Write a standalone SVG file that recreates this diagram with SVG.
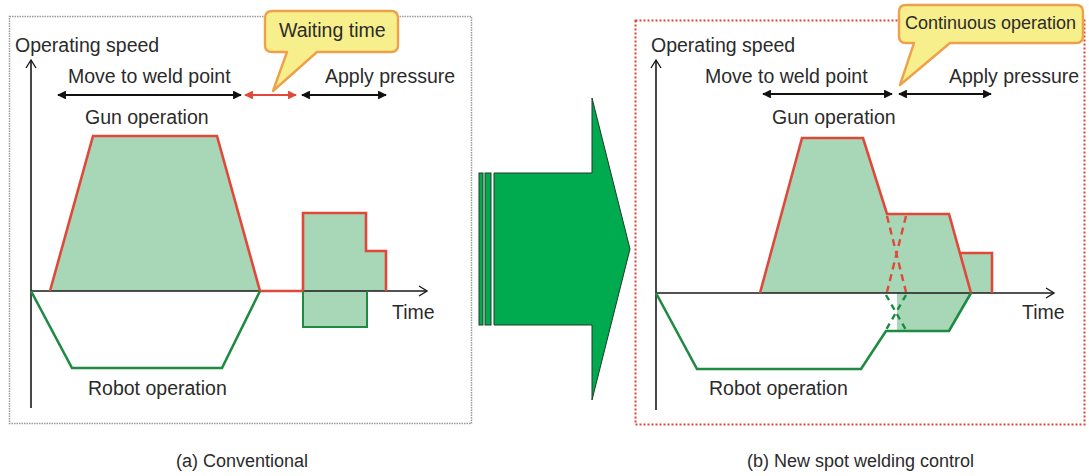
<svg xmlns="http://www.w3.org/2000/svg" width="1089" height="476" viewBox="0 0 1089 476">
  <style>
    text { font-family: "Liberation Sans", Arial, sans-serif; fill: #2b2b2b; }
    .lbl { font-size: 19.5px; }
    .cap { font-size: 18px; }
    .axis { stroke: #1a1a1a; stroke-width: 1.6; fill: none; }
    .chev { stroke: #1a1a1a; stroke-width: 1.4; fill: none; }
    .gun { stroke: #e2483a; stroke-width: 2.6; fill: none; stroke-linejoin: miter; }
    .rob { stroke: #1e8a42; stroke-width: 2.6; fill: none; }
    .area { fill: #a7d7b6; stroke: none; }
    .dim { stroke: #111; stroke-width: 2.2; marker-start: url(#tipL); marker-end: url(#tipR); }
    .dimr { stroke: #e2483a; stroke-width: 2.2; marker-start: url(#tipLr); marker-end: url(#tipRr); }
    .callout { fill: #f7ef8c; stroke: #eea04a; stroke-width: 2.4; stroke-linejoin: round; }
    .gdash { stroke: #e2483a; stroke-width: 2.4; stroke-dasharray: 7 5; fill: none; }
    .rdash { stroke: #1e8a42; stroke-width: 2.4; stroke-dasharray: 6 5; fill: none; }
  </style>
  <defs>
    <marker id="tipR" viewBox="0 0 10 10" refX="9" refY="5" markerWidth="4" markerHeight="4" orient="auto" markerUnits="strokeWidth">
      <path d="M0,0 L10,5 L0,10 z" fill="#111"/>
    </marker>
    <marker id="tipL" viewBox="0 0 10 10" refX="1" refY="5" markerWidth="4" markerHeight="4" orient="auto" markerUnits="strokeWidth">
      <path d="M10,0 L0,5 L10,10 z" fill="#111"/>
    </marker>
    <marker id="tipRr" viewBox="0 0 10 10" refX="9" refY="5" markerWidth="4" markerHeight="4" orient="auto" markerUnits="strokeWidth">
      <path d="M0,0 L10,5 L0,10 z" fill="#e2483a"/>
    </marker>
    <marker id="tipLr" viewBox="0 0 10 10" refX="1" refY="5" markerWidth="4" markerHeight="4" orient="auto" markerUnits="strokeWidth">
      <path d="M10,0 L0,5 L10,10 z" fill="#e2483a"/>
    </marker>
  </defs>

  <rect width="1089" height="476" fill="#ffffff"/>

  <!-- (a) conventional timing chart -->
  <g id="panel-conventional">
    <rect x="9.5" y="16.5" width="462" height="407" fill="none" stroke="#9a9a9a" stroke-width="1.5" stroke-dasharray="1.5 1"/>
    <!-- gun operation areas -->
    <path class="area" d="M50,291 L93,136 L217,136 L260,291 z"/>
    <path class="area" d="M303,291 L303,213 L366,213 L366,251 L386,251 L386,291 z"/>
    <!-- robot operation area during pressure -->
    <path class="area" d="M303,291 L367,291 L367,327 L303,327 z"/>
    <!-- axes -->
    <line class="axis" x1="31" y1="60" x2="31" y2="408"/>
    <path class="chev" d="M26,68 L31,60 L36,68"/>
    <line class="axis" x1="31" y1="291" x2="427" y2="291"/>
    <path class="chev" d="M419,286 L427,291 L419,296"/>
    <!-- profile outlines -->
    <path class="gun" d="M50,291 L93,136 L217,136 L260,291 L303,291 L303,213 L366,213 L366,251 L386,251 L386,291"/>
    <path class="rob" d="M31,291 L72,368 L222,368 L260,291"/>
    <path d="M303,291 L303,327 L367,327 L367,291" fill="none" stroke="#1e8a42" stroke-width="2"/>
    <!-- labels -->
    <text class="lbl" x="15" y="52">Operating speed</text>
    <text class="lbl" x="68" y="83">Move to weld point</text>
    <text class="lbl" x="325" y="83">Apply pressure</text>
    <text class="lbl" x="85" y="124">Gun operation</text>
    <text class="lbl" x="88" y="395">Robot operation</text>
    <text class="lbl" x="392" y="319">Time</text>
    <text class="cap" x="176" y="467">(a) Conventional</text>
  </g>

  <g id="spans-conventional">
    <line class="dim" x1="58" y1="95" x2="241" y2="95"/>
    <line class="dimr" x1="245" y1="95" x2="296" y2="95"/>
    <line class="dim" x1="302" y1="95" x2="386" y2="95"/>
  </g>

  <g id="callout-waiting">
    <path class="callout" d="M273,11 L391,11 Q398,11 398,18 L398,45 Q398,52 391,52 L317,52 L273,91 L287,52 L272,52 Q265,52 265,45 L265,18 Q265,11 273,11 z"/>
    <text class="lbl" x="279" y="37">Waiting time</text>
  </g>

  <!-- transition arrow -->
  <g id="arrow-transition" fill="#00aa4e" stroke="#1f3a26" stroke-width="1">
    <rect x="479" y="173" width="4" height="152"/>
    <rect x="485" y="173" width="6" height="152"/>
    <path d="M494,173 L592,173 L592,98 L630,249 L592,400 L592,325 L494,325 z"/>
  </g>

  <!-- (b) new spot welding control timing chart -->
  <g id="panel-new">
    <rect x="635.5" y="20.5" width="449" height="404" fill="none" stroke="#e0443c" stroke-width="2" stroke-dasharray="2 2"/>
    <!-- gun operation area (overlapping motion) -->
    <path class="area" d="M760,293 L802,138 L863,138 L887,214 L949,214 L971,293 z"/>
    <path class="area" d="M960,253 L992,253 L992,293 L960,293 z"/>
    <!-- robot operation area during pressure -->
    <path class="area" d="M897,293 L971,293 L949,331 L897,331 z"/>
    <!-- axes -->
    <line class="axis" x1="656" y1="60" x2="656" y2="410"/>
    <path class="chev" d="M651,68 L656,60 L661,68"/>
    <line class="axis" x1="656" y1="293" x2="1054" y2="293"/>
    <path class="chev" d="M1046,288 L1054,293 L1046,298"/>
    <!-- profile outlines -->
    <path class="gun" d="M760,293 L802,138 L863,138 L887,214 L949,214 L971,293"/>
    <path class="gun" d="M960,253 L992,253 L992,293"/>
    <path class="gdash" d="M887,216 L906,292 M906,216 L887,292"/>
    <path class="rob" d="M656,293 L697,369 L861,369 L886,331 L949,331 L971,293"/>
    <path class="rdash" d="M886,295 L906,330 M906,295 L886,330"/>
    <!-- labels -->
    <text class="lbl" x="651" y="52">Operating speed</text>
    <text class="lbl" x="705" y="83">Move to weld point</text>
    <text class="lbl" x="949" y="83">Apply pressure</text>
    <text class="lbl" x="772" y="124">Gun operation</text>
    <text class="lbl" x="709" y="395">Robot operation</text>
    <text class="lbl" x="1022" y="319">Time</text>
    <text class="cap" x="747" y="467">(b) New spot welding control</text>
  </g>

  <g id="spans-new">
    <line class="dim" x1="763" y1="94" x2="892" y2="94"/>
    <line class="dim" x1="899" y1="94" x2="991" y2="94"/>
  </g>

  <g id="callout-continuous">
    <path class="callout" d="M906,5 L1076,5 Q1083,5 1083,12 L1083,36 Q1083,43 1076,43 L950,43 L900,85 L914,43 L906,43 Q899,43 899,36 L899,12 Q899,5 906,5 z"/>
    <text class="cap" x="905" y="29">Continuous operation</text>
  </g>
</svg>
